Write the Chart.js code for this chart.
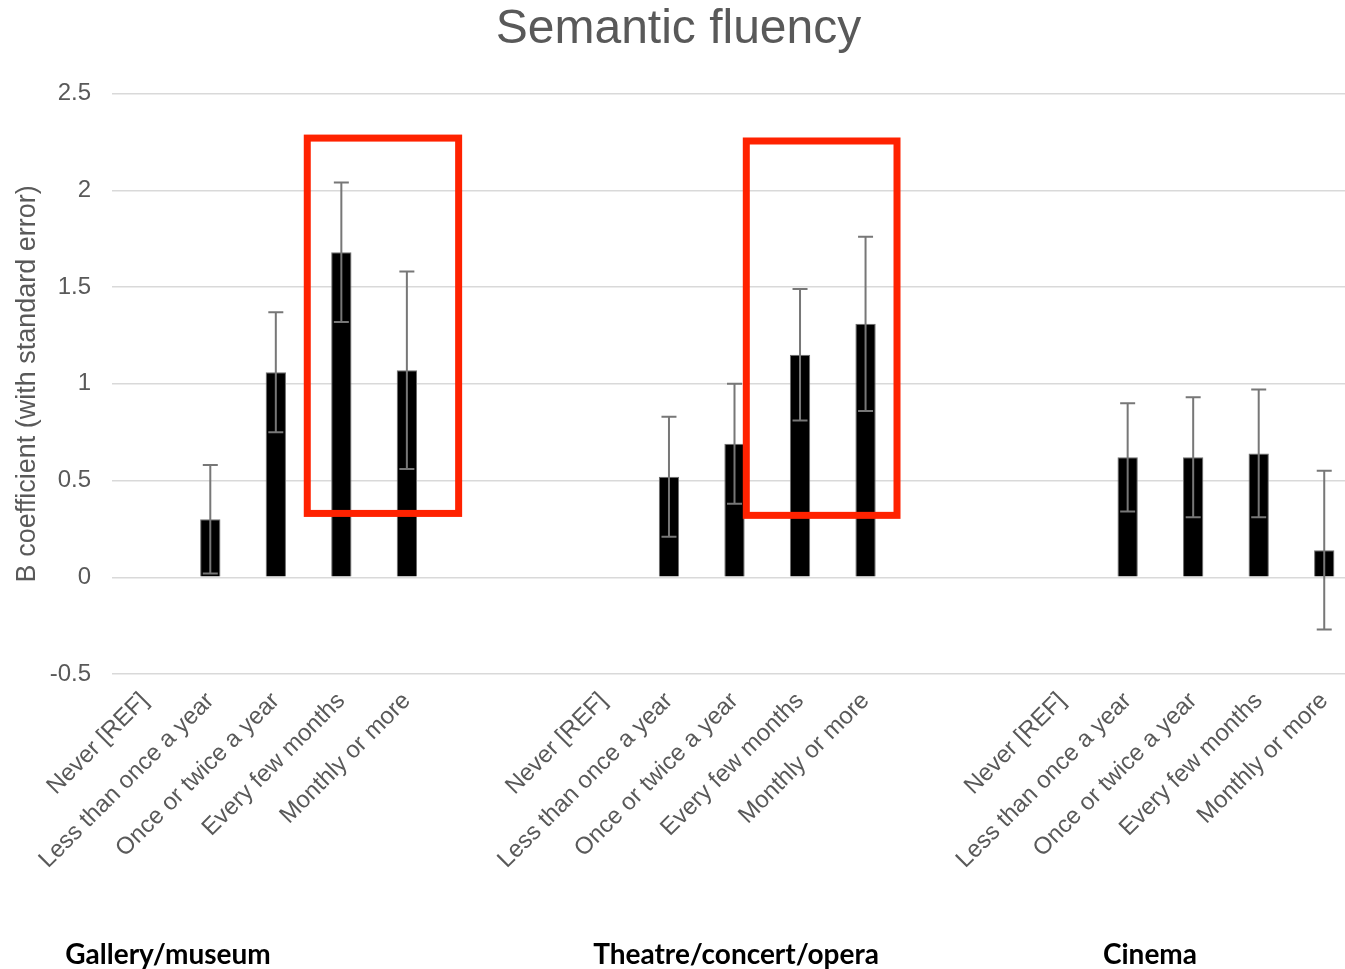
<!DOCTYPE html>
<html>
<head>
<meta charset="utf-8">
<script src="https://cdn.jsdelivr.net/npm/chart.js@4.4.1/dist/chart.umd.min.js"></script>
<style>
  html, body { margin: 0; padding: 0; background: #fff; overflow: hidden; }
  #wrap { position: relative; width: 1345px; height: 969px; overflow: hidden; }
  canvas { position: absolute; left: 0; top: 0; }
  .grp { position: absolute; top: 935px; font-family: Lato, "Open Sans", sans-serif; font-weight: bold; font-size: 28px; line-height: 36px; color: #000; white-space: nowrap; transform: translateX(-50%); }
</style>
</head>
<body>
<div id="wrap">
  <canvas id="c" width="1360" height="969"></canvas>
  <div class="grp" style="left:168px">Gallery/museum</div>
  <div class="grp" style="left:736px">Theatre/concert/opera</div>
  <div class="grp" style="left:1150px">Cinema</div>
</div>
<script>
const levels = ["Never [REF]", "Less than once a year", "Once or twice a year", "Every few months", "Monthly or more"];
const categories = [...levels, "", "", ...levels, "", "", ...levels];
const values = [null, 0.30, 1.06, 1.68, 1.07, null, null,
                null, 0.52, 0.69, 1.15, 1.31, null, null,
                null, 0.62, 0.62, 0.64, 0.14];
const errLow = [null, 0.02, 0.75, 1.32, 0.56, null, null,
                null, 0.21, 0.38, 0.81, 0.86, null, null,
                null, 0.34, 0.31, 0.31, -0.27];
const errHigh = [null, 0.58, 1.37, 2.04, 1.58, null, null,
                 null, 0.83, 1.00, 1.49, 1.76, null, null,
                 null, 0.90, 0.93, 0.97, 0.55];
const yTicks = [-0.5, 0, 0.5, 1, 1.5, 2, 2.5];
// highlight boxes: [xFrom index, xTo index, yFrom, yTo]
const boxes = [[2.48, 4.79, 0.33, 2.27], [9.18, 11.48, 0.32, 2.255]];

const FONT = "'Liberation Sans', Arial, sans-serif";

const errorBarPlugin = {
  id: 'errorBars',
  afterDatasetsDraw(chart) {
    const ctx = chart.ctx, x = chart.scales.x, y = chart.scales.y;
    ctx.save();
    ctx.strokeStyle = '#777777';
    ctx.lineWidth = 2;
    const cap = 7.5;
    values.forEach((v, i) => {
      if (v === null) return;
      const px = x.getPixelForValue(i);
      const lo = y.getPixelForValue(errLow[i]), hi = y.getPixelForValue(errHigh[i]);
      ctx.beginPath();
      ctx.moveTo(px, lo); ctx.lineTo(px, hi);
      ctx.moveTo(px - cap, lo); ctx.lineTo(px + cap, lo);
      ctx.moveTo(px - cap, hi); ctx.lineTo(px + cap, hi);
      ctx.stroke();
    });
    ctx.strokeStyle = '#ff2200';
    ctx.lineWidth = 7;
    boxes.forEach(b => {
      const x1 = x.getPixelForValue(b[0]), x2 = x.getPixelForValue(b[1]);
      const y1 = y.getPixelForValue(b[2]), y2 = y.getPixelForValue(b[3]);
      ctx.strokeRect(x1, y2, x2 - x1, y1 - y2);
    });
    ctx.restore();
  }
};

new Chart(document.getElementById('c'), {
  type: 'bar',
  data: {
    labels: categories,
    datasets: [{
      data: values,
      backgroundColor: '#000000',
      borderColor: '#6e6e6e',
      borderWidth: 1,
      barPercentage: 0.31,
      categoryPercentage: 1.0
    }]
  },
  options: {
    responsive: false,
    animation: false,
    layout: { padding: { left: 0, right: 3, top: 0, bottom: 0 } },
    plugins: {
      legend: { display: false },
      tooltip: { enabled: false },
      title: {
        display: true,
        text: 'Semantic fluency',
        color: '#595959',
        font: { family: FONT, size: 48, weight: 'normal' },
        padding: { top: 1, bottom: 35 }
      }
    },
    scales: {
      x: {
        grid: { display: false, drawTicks: false },
        border: { display: false },
        ticks: {
          autoSkip: false,
          maxRotation: 45, minRotation: 45,
          color: '#595959',
          font: { family: FONT, size: 24 },
          padding: 13
        },
        afterFit(scale) { scale.height = 295; }
      },
      y: {
        min: -0.5, max: 2.5,
        afterBuildTicks(scale) { scale.ticks = yTicks.map(v => ({ value: v })); },
        grid: { color: '#d9d9d9', lineWidth: 1.5, drawTicks: false },
        border: { display: false },
        ticks: {
          color: '#595959',
          font: { family: FONT, size: 24 },
          padding: 21,
          callback: v => String(v)
        },
        title: {
          display: true,
          text: 'B coefficient (with standard error)',
          color: '#595959',
          font: { family: FONT, size: 27 },
          padding: { top: 11, bottom: 0 }
        },
        afterFit(scale) { scale.width = 112; }
      }
    }
  },
  plugins: [errorBarPlugin]
});
</script>
</body>
</html>
